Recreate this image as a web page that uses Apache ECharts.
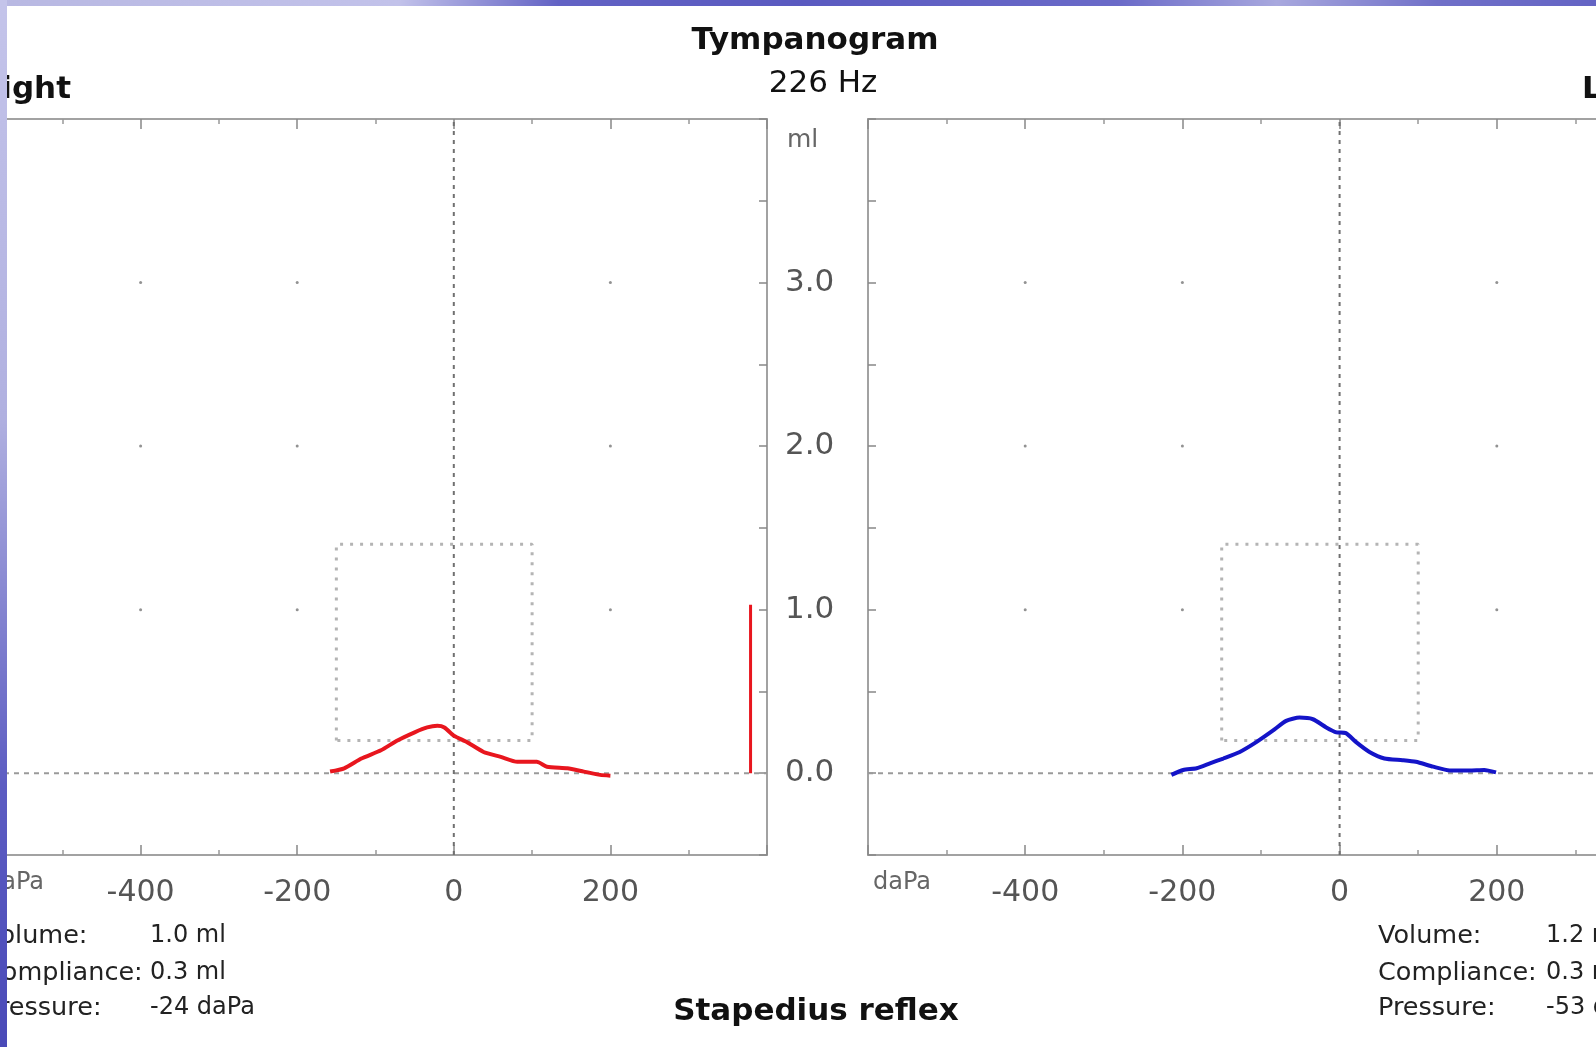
<!DOCTYPE html>
<html>
<head>
<meta charset="utf-8">
<script src="https://cdn.jsdelivr.net/npm/echarts@6/dist/echarts.min.js"></script>
<style>
html,body{margin:0;padding:0;background:#fff;overflow:hidden;width:1596px;height:1047px;}
#c{position:absolute;left:-19px;top:0;width:1700px;height:1047px;}
</style>
</head>
<body>
<div id="c"></div>
<script>
// ---- data ----
const pressureTicks = [-400, -200, 0, 200];
const volumeTicks = [0, 1, 2, 3];
const gridDotX = [-400, -200, 200];
const gridDotY = [1, 2, 3];
const normalBoxP = [-150, 100];
const normalBoxC = [0.2, 1.4];

// Right ear (red)
const rightP = [-158, -140, -118, -93, -72, -50, -34, -21, -12, 0, 17, 38, 60, 81, 106, 119, 145, 166, 187, 200];
const rightC = [0.01, 0.03, 0.09, 0.14, 0.20, 0.25, 0.28, 0.29, 0.28, 0.23, 0.19, 0.13, 0.10, 0.07, 0.07, 0.04, 0.03, 0.01, -0.01, -0.015];
// Left ear (blue)
const leftP = [-214, -199, -182, -165, -148, -127, -106, -85, -68, -51, -34, -17, -4, 8, 21, 38, 57, 80, 97, 119, 140, 165, 184, 199];
const leftC = [-0.01, 0.02, 0.03, 0.06, 0.09, 0.13, 0.19, 0.26, 0.32, 0.34, 0.33, 0.28, 0.25, 0.245, 0.19, 0.13, 0.09, 0.08, 0.07, 0.04, 0.017, 0.017, 0.02, 0.005];

const volumeBarP = 379;
const rightVolume = 1.03;
const leftVolume = 1.2;

const rightInfo = [["Volume:", "1.0 ml"], ["Compliance:", "0.3 ml"], ["Pressure:", "-24 daPa"]];
const leftInfo = [["Volume:", "1.2 ml"], ["Compliance:", "0.3 ml"], ["Pressure:", "-53 daPa"]];

// ---- styling ----
const OX = 19; // canvas is shifted 19px left of the page
const FONT = "'DejaVu Sans', Verdana, sans-serif";
const frameColor = '#a2a2a2';
const labelColor = '#555';

function xAx(grid, pos, labels) {
  return {
    type: 'value', gridIndex: grid, position: pos, min: -600, max: 400, interval: 200,
    axisLine: {show: true, onZero: false, lineStyle: {color: frameColor, width: 2}},
    axisTick: {show: true, inside: true, length: 10, lineStyle: {color: '#888', width: 1.5}},
    minorTick: {show: true, splitNumber: 2, length: 5, lineStyle: {color: '#999', width: 1.5}},
    splitLine: {show: false},
    axisLabel: {show: labels, margin: 23, color: labelColor, fontFamily: FONT, fontSize: 30,
      formatter: v => pressureTicks.includes(v) ? String(v) : ''}
  };
}
function yAx(grid, pos, labels) {
  return {
    type: 'value', gridIndex: grid, position: pos, min: -0.5, max: 4, interval: 0.5,
    axisLine: {show: true, onZero: false, lineStyle: {color: frameColor, width: 2}},
    axisTick: {show: true, inside: true, length: 8, lineStyle: {color: '#888', width: 1.5}},
    splitLine: {show: false},
    axisLabel: {show: labels, margin: 18, color: labelColor, fontFamily: FONT, fontSize: 31,
      formatter: v => volumeTicks.includes(v) ? v.toFixed(1) : ''}
  };
}

function earSeries(xi, yi, P, C, color, volume) {
  const dots = [];
  gridDotX.forEach(x => gridDotY.forEach(y => dots.push([x, y])));
  const box = [[normalBoxP[0], normalBoxC[0]], [normalBoxP[0], normalBoxC[1]], [normalBoxP[1], normalBoxC[1]], [normalBoxP[1], normalBoxC[0]], [normalBoxP[0], normalBoxC[0]]];
  return [
    {type: 'scatter', xAxisIndex: xi, yAxisIndex: yi, data: dots, symbolSize: 3, itemStyle: {color: '#777'}, silent: true, z: 1},
    {type: 'line', xAxisIndex: xi, yAxisIndex: yi, data: box, symbol: 'none', silent: true, z: 1,
      lineStyle: {color: '#b4b4b4', width: 3, type: [3, 7]}},
    {type: 'line', xAxisIndex: xi, yAxisIndex: yi, data: [[-600, 0], [400, 0]], symbol: 'none', silent: true, z: 2,
      lineStyle: {color: '#9a9a9a', width: 2, type: [5, 5]}},
    {type: 'line', xAxisIndex: xi, yAxisIndex: yi, data: [[0, -0.5], [0, 4]], symbol: 'none', silent: true, z: 2,
      lineStyle: {color: '#707070', width: 2, type: [4, 5]}},
    {type: 'line', xAxisIndex: xi, yAxisIndex: yi, data: P.map((p, i) => [p, C[i]]), symbol: 'none', z: 5,
      smooth: 0.2, lineStyle: {color: color, width: 4}},
    {type: 'line', xAxisIndex: xi, yAxisIndex: yi, data: [[volumeBarP, 0], [volumeBarP, volume]], symbol: 'none', z: 5,
      lineStyle: {color: color, width: 3}}
  ];
}

function txt(x, y, text, size, opts) {
  opts = opts || {};
  return {type: 'text', x: x + OX, y: y, z: 50,
    style: {text: text, font: (opts.bold ? 'bold ' : '') + size + 'px ' + FONT,
      fill: opts.fill || '#111', textAlign: opts.align || 'left', textVerticalAlign: 'middle'}};
}

const graphics = [];
graphics.push(txt(815, 41, 'Tympanogram', 31, {bold: true, align: 'center'}));
graphics.push(txt(823, 84, '226 Hz', 31, {align: 'center'}));
graphics.push(txt(71, 90, 'Right', 31, {bold: true, align: 'right'}));
graphics.push(txt(1582, 90, 'Left', 31, {bold: true}));
graphics.push(txt(787, 140, 'ml', 25, {fill: '#666'}));
graphics.push(txt(-14, 883, 'daPa', 24, {fill: '#666'}));
graphics.push(txt(873, 883, 'daPa', 24, {fill: '#666'}));
const infoY = [936, 973, 1008];
rightInfo.forEach((r, i) => {
  graphics.push(txt(-16, infoY[i], r[0], 25.5, {fill: '#222'}));
  graphics.push(txt(150, infoY[i], r[1], 24, {fill: '#222'}));
});
leftInfo.forEach((r, i) => {
  graphics.push(txt(1378, infoY[i], r[0], 25.5, {fill: '#222'}));
  graphics.push(txt(1546, infoY[i], r[1], 24, {fill: '#222'}));
});
graphics.push(txt(816, 1012, 'Stapedius reflex', 31, {bold: true, align: 'center'}));
// slide background edges
graphics.push({type: 'rect', z: 100, shape: {x: OX, y: 0, width: 1596, height: 6},
  style: {fill: new echarts.graphic.LinearGradient(0, 0, 1, 0, [
    {offset: 0, color: '#b8b8e2'}, {offset: 0.25, color: '#c2c2ea'}, {offset: 0.35, color: '#6262c4'},
    {offset: 0.5, color: '#5a5ac0'}, {offset: 0.7, color: '#6a6ac8'}, {offset: 0.8, color: '#a8a8de'},
    {offset: 0.9, color: '#7070c8'}, {offset: 1, color: '#6464c4'}])}});
graphics.push({type: 'rect', z: 100, shape: {x: OX, y: 0, width: 7, height: 1047},
  style: {fill: new echarts.graphic.LinearGradient(0, 0, 0, 1, [
    {offset: 0, color: '#c4c4ea'}, {offset: 0.4, color: '#b0b0e0'}, {offset: 0.75, color: '#5c5cc2'}, {offset: 1, color: '#4a4ab8'}])}});

const chart = echarts.init(document.getElementById('c'), null, {renderer: 'canvas'});
chart.setOption({
  backgroundColor: '#ffffff',
  animation: false,
  grid: [
    {left: 0, top: 119, width: 786, height: 736, containLabel: false},
    {left: 868 + OX, top: 119, width: 786, height: 736, containLabel: false}
  ],
  xAxis: [xAx(0, 'bottom', true), xAx(0, 'top', false), xAx(1, 'bottom', true), xAx(1, 'top', false)],
  yAxis: [yAx(0, 'right', true), yAx(0, 'left', false), yAx(1, 'left', false), yAx(1, 'right', false)],
  series: [].concat(
    earSeries(0, 0, rightP, rightC, '#e8161e', rightVolume),
    earSeries(2, 2, leftP, leftC, '#1414c8', leftVolume)
  ),
  graphic: graphics
});
</script>
</body>
</html>
